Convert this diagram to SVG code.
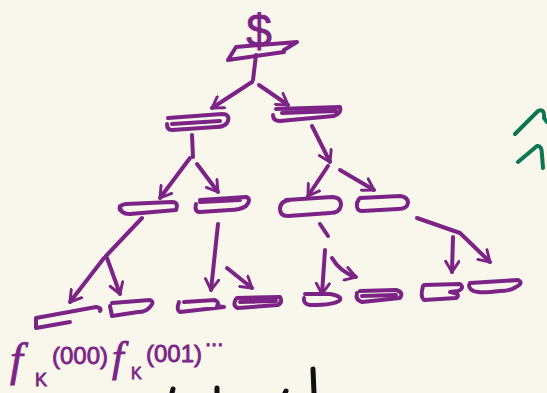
<svg xmlns="http://www.w3.org/2000/svg" width="547" height="393" viewBox="0 0 547 393">
<style>
.ink{fill:none;stroke:#7b2486;stroke-width:4;stroke-linecap:round;stroke-linejoin:round}
.lbl{fill:#7b2486;stroke:#7b2486;stroke-width:0.8;font-family:"Liberation Sans",Arial,sans-serif}
</style>
<defs>
<marker id="ah" viewBox="0 0 12 12" refX="9" refY="6" markerWidth="4" markerHeight="4" orient="auto" markerUnits="strokeWidth">
<path d="M1,1 L9,6 L1,11" fill="none" stroke="#7b2486" stroke-width="2.2" stroke-linecap="round" stroke-linejoin="round"/>
</marker>
</defs>
<rect width="547" height="393" fill="#f9f6eb"/>

<g id="root">
<text class="lbl" x="259" y="47" font-size="46" text-anchor="middle">$</text>
<path class="ink" d="M236,47 L297,42 L284,50 M236,47 L228,60 L284,52"/>
</g>

<g id="n-l1-left"><path class="ink" d="M168,118 L222,114 Q230,114 228,121 Q226,127 216,127 L172,130 Q167,130 167,124 M172,124 L220,121"/></g>
<g id="n-l1-right"><path class="ink" d="M276,109 L340,107 Q342,113 334,116 L280,121 Q273,121 273,115 M282,113 L336,111"/></g>

<g id="n-l2-a"><path class="ink" d="M120,206 Q120,214 130,214 L176,210 Q179,202 172,202 L126,204 Q118,205 120,210"/></g>
<g id="n-l2-b"><path class="ink" d="M200,200 L246,197 Q252,199 246,206 Q240,210 230,210 L200,212 Q194,212 196,204 M200,202 L240,200"/></g>
<g id="n-l2-c"><path class="ink" d="M286,200 L332,197 Q341,197 341,205 Q340,213 330,213 L288,216 Q280,216 280,209 Q280,201 290,200"/></g>
<g id="n-l2-d"><path class="ink" d="M360,198 L400,196 Q408,197 408,203 Q407,209 398,209 L362,211 Q356,211 357,203 L359,199"/></g>

<g id="n-l3-1"><path class="ink" d="M36,318 L96,307 Q102,308 100,311 M36,318 L36,328 L70,322"/></g>
<g id="n-l3-2"><path class="ink" d="M112,303 L150,300 Q155,302 150,307 Q146,312 138,312 L112,316 L110,306"/></g>
<g id="n-l3-3"><path class="ink" d="M184,302 L215,300 Q220,303 217,306 L224,307 L180,312 Q176,310 179,302"/></g>
<g id="n-l3-4"><path class="ink" d="M237,298 L280,297 Q283,302 278,305 L238,308 Q232,306 236,299 M240,302 L276,301"/></g>
<g id="n-l3-5"><path class="ink" d="M305,294 L330,294 Q342,296 340,300 Q336,305 310,305 Q303,304 304,298"/></g>
<g id="n-l3-6"><path class="ink" d="M360,291 L396,290 Q404,292 400,298 L362,302 Q355,300 357,293 M362,296 L396,295"/></g>
<g id="n-l3-7"><path class="ink" d="M424,285 L460,284 Q465,288 458,291 L450,292 Q462,294 456,298 L424,300 Q420,297 423,286"/></g>
<g id="n-l3-8"><path class="ink" d="M470,283 L518,280 Q524,283 516,287 Q510,291 500,291 Q484,293 478,292 Q469,291 469,285"/></g>

<g id="connectors" class="ink">
<path d="M256,55 L253,80 M252,82 L212,108" marker-end="url(#ah)"/>
<path d="M259,85 L288,105" marker-end="url(#ah)"/>
<path d="M192,135 L193,157"/>
<path d="M190,158 L160,198" marker-end="url(#ah)"/>
<path d="M197,164 L218,192" marker-end="url(#ah)"/>
<path d="M312,126 L330,162" marker-end="url(#ah)"/>
<path d="M328,166 L308,196" marker-end="url(#ah)"/>
<path d="M340,170 L374,190" marker-end="url(#ah)"/>
<path d="M142,218 L106,256"/>
<path d="M104,258 L70,302" marker-end="url(#ah)"/>
<path d="M107,258 L120,294" marker-end="url(#ah)"/>
<path d="M218,224 L211,290" marker-end="url(#ah)"/>
<path d="M227,268 L252,288" marker-end="url(#ah)"/>
<path d="M320,224 L328,236"/>
<path d="M325,250 L322,294" marker-end="url(#ah)"/>
<path d="M332,258 Q340,272 356,277" marker-end="url(#ah)"/>
<path d="M417,218 L460,233 L490,262" marker-end="url(#ah)"/>
<path d="M453,237 L452,272" marker-end="url(#ah)"/>
</g>

<text class="lbl"><tspan x="10" y="375" font-size="46" font-family="Liberation Serif,serif" font-style="italic">f</tspan><tspan x="35" y="386" font-size="18">K</tspan><tspan x="52" y="364" font-size="24">(000)</tspan><tspan x="112" y="371" font-size="42" font-family="Liberation Serif,serif" font-style="italic">f</tspan><tspan x="131" y="379" font-size="16">K</tspan><tspan x="146" y="362" font-size="24">(001)</tspan><tspan x="205" y="346" font-size="22">...</tspan></text>

<g id="partial-marks" fill="none" stroke-linecap="round" stroke-linejoin="round">
<path d="M313,369 L314,393 M173,389 L172,393 M217,388 L217,393 M286,391 L285,393" stroke="#111" stroke-width="5"/>
<path d="M515,134 L538,111 Q545,108 544,118 L547,122 M518,162 L537,146 Q542,145 542,155 L543,168" stroke="#0d7552" stroke-width="4"/>
</g>
</svg>
